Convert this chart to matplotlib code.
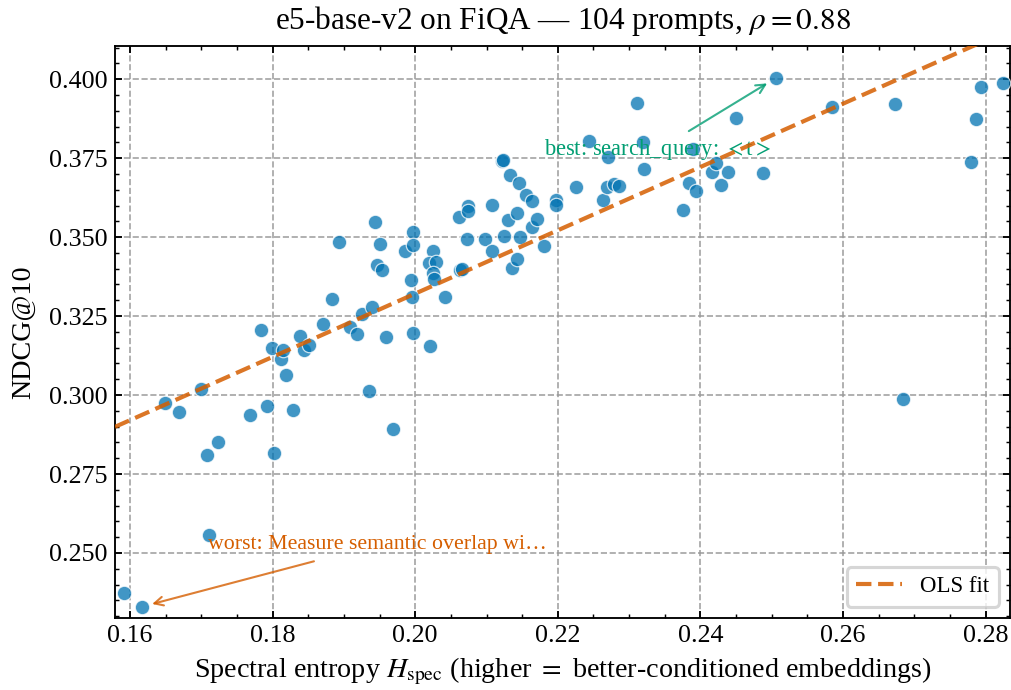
import numpy as np
import matplotlib.pyplot as plt
from matplotlib.ticker import MultipleLocator

# spectral entropy per prompt (x) and NDCG@10 (y)
h_spec = [0.1592, 0.1617, 0.1649, 0.1669, 0.1700, 0.1708, 0.1711, 0.1723, 0.1768, 0.1784,
          0.1792, 0.1799, 0.1802, 0.1812, 0.1815, 0.1819, 0.1829, 0.1838, 0.1844, 0.1851,
          0.1871, 0.1883, 0.1893, 0.1909, 0.1918, 0.1925, 0.1935, 0.1939, 0.1944, 0.1946,
          0.1951, 0.1953, 0.1959, 0.1969, 0.1986, 0.1994, 0.1996, 0.1997, 0.1997, 0.1997,
          0.2021, 0.2025, 0.2019, 0.2029, 0.2025, 0.2026, 0.2042, 0.2061, 0.2063, 0.2066,
          0.2073, 0.2074, 0.2074, 0.2098, 0.2108, 0.2108, 0.2122, 0.2123, 0.2125, 0.2130,
          0.2133, 0.2136, 0.2143, 0.2143, 0.2146, 0.2147, 0.2155, 0.2164, 0.2164, 0.2171,
          0.2181, 0.2198, 0.2198, 0.2226, 0.2244, 0.2263, 0.2269, 0.2270, 0.2279, 0.2286,
          0.2311, 0.2320, 0.2321, 0.2376, 0.2384, 0.2390, 0.2394, 0.2416, 0.2422, 0.2429,
          0.2439, 0.2450, 0.2488, 0.2506, 0.2585, 0.2673, 0.2684, 0.2780, 0.2787, 0.2794,
          0.2824]
ndcg10 = [0.2374, 0.2330, 0.2976, 0.2947, 0.3020, 0.2811, 0.2558, 0.2852, 0.2938, 0.3207,
          0.2966, 0.3150, 0.2817, 0.3115, 0.3143, 0.3064, 0.2953, 0.3188, 0.3143, 0.3159,
          0.3226, 0.3305, 0.3485, 0.3216, 0.3194, 0.3257, 0.3014, 0.3279, 0.3548, 0.3412,
          0.3479, 0.3397, 0.3184, 0.2893, 0.3457, 0.3365, 0.3311, 0.3517, 0.3476, 0.3197,
          0.3156, 0.3457, 0.3419, 0.3422, 0.3387, 0.3368, 0.3311, 0.3564, 0.3397, 0.3400,
          0.3495, 0.3599, 0.3583, 0.3495, 0.3602, 0.3457, 0.3741, 0.3745, 0.3504, 0.3555,
          0.3697, 0.3403, 0.3577, 0.3431, 0.3672, 0.3501, 0.3634, 0.3615, 0.3533, 0.3558,
          0.3472, 0.3618, 0.3602, 0.3659, 0.3805, 0.3618, 0.3659, 0.3754, 0.3669, 0.3662,
          0.3925, 0.3802, 0.3716, 0.3586, 0.3672, 0.3779, 0.3647, 0.3707, 0.3735, 0.3666,
          0.3707, 0.3878, 0.3703, 0.4004, 0.3912, 0.3922, 0.2988, 0.3738, 0.3874, 0.3976,
          0.3988]

title = r"e5-base-v2 on FiQA — 104 prompts, $\rho = 0.88$"
best_label = r"best: search_query: $<$t$>$"
worst_label = "worst: Measure semantic overlap wi…"

plt.rcParams['font.family'] = ['Liberation Serif', 'DejaVu Serif']
plt.rcParams['mathtext.fontset'] = 'stix'

BLUE = '#0173b2'
ORANGE = '#d55e00'
GREEN = '#029e73'


def main():
    x = np.array(h_spec)
    y = np.array(ndcg10)

    fig = plt.figure(figsize=(6.74, 4.6), dpi=150)
    ax = fig.add_axes([0.1137, 0.1043, 0.8853, 0.829])

    ax.scatter(x, y, s=48, color=BLUE, alpha=0.75, edgecolor='white',
               linewidth=0.6, zorder=3)

    xlim = (0.1579, 0.2834)
    ylim = (0.2294, 0.4105)
    slope, icpt = np.polyfit(x, y, 1)
    xs = np.array(xlim)
    ax.plot(xs, slope * xs + icpt, ls='--', lw=2.0, color=ORANGE, alpha=0.85,
            label='OLS fit', zorder=4)

    # best / worst callouts
    ib = int(np.argmax(y))
    iw = int(np.argmin(y))
    ax.annotate(best_label, xy=(x[ib], y[ib]), xytext=(0.2181, 0.3776),
                ha='left', va='center', fontsize=10.8, color=GREEN,
                arrowprops=dict(arrowstyle='->', color=GREEN, alpha=0.8, lw=1.0,
                                shrinkA=2, shrinkB=5))
    ax.annotate(worst_label, xy=(x[iw], y[iw]), xytext=(0.1710, 0.2527),
                ha='left', va='center', fontsize=10.5, color=ORANGE,
                arrowprops=dict(arrowstyle='->', color=ORANGE, alpha=0.8, lw=1.0,
                                shrinkA=6, shrinkB=5))

    ax.set_xlim(*xlim)
    ax.set_ylim(*ylim)
    ax.xaxis.set_major_locator(MultipleLocator(0.02))
    ax.xaxis.set_minor_locator(MultipleLocator(0.005))
    ax.yaxis.set_major_locator(MultipleLocator(0.025))
    ax.yaxis.set_minor_locator(MultipleLocator(0.005))
    ax.tick_params(which='both', direction='in', top=True, right=True, labelsize=12.5)
    ax.tick_params(which='major', length=3.5, width=0.9)
    ax.tick_params(which='minor', length=2, width=0.7)
    for sp in ax.spines.values():
        sp.set_linewidth(0.9)
    ax.grid(True, which='major', ls='--', lw=0.8, color='0.6', alpha=0.9)
    ax.set_axisbelow(True)

    ax.set_title(title, fontsize=15, pad=8)
    ax.set_xlabel(r"Spectral entropy $H_{\mathrm{spec}}$ (higher $=$ better-conditioned embeddings)",
                  fontsize=13.5)
    ax.set_ylabel("NDCG@10", fontsize=13.5, labelpad=6)

    leg = ax.legend(loc='lower right', fontsize=11, frameon=True, fancybox=True,
                    handlelength=2.0)
    leg.get_frame().set_edgecolor('0.8')
    leg.get_frame().set_linewidth(1.5)

    fig.savefig('out.png', dpi=150)


if __name__ == "__main__":
    main()
